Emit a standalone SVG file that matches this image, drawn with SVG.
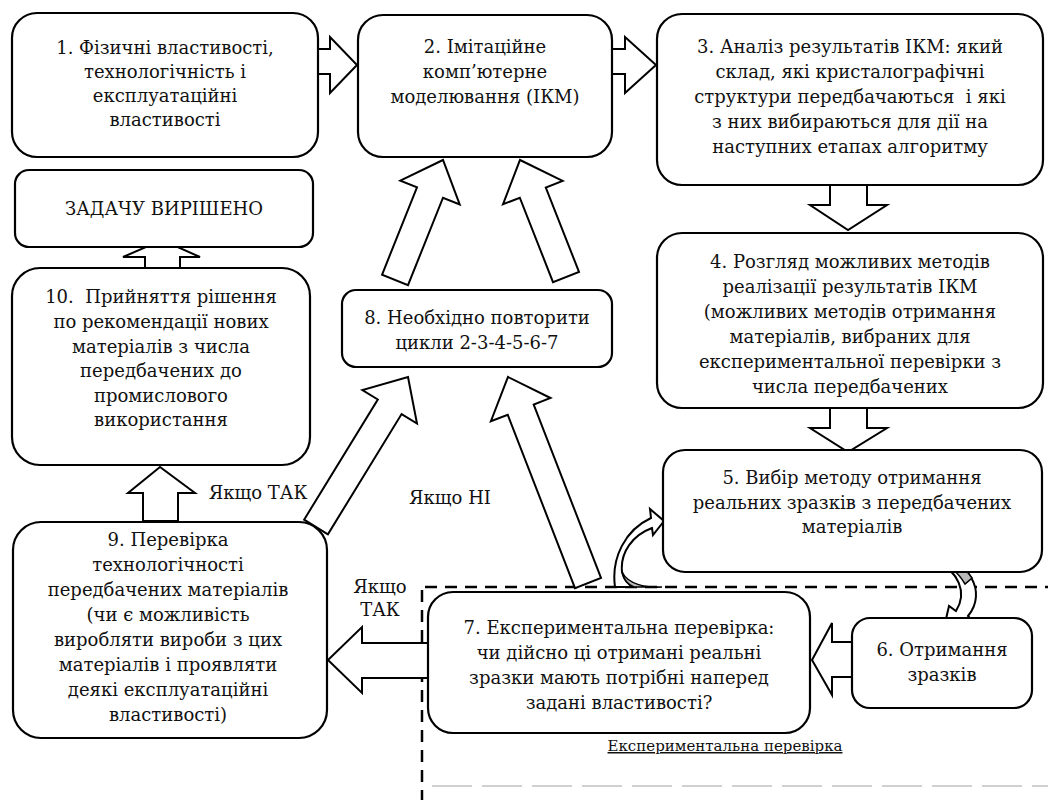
<svg xmlns="http://www.w3.org/2000/svg" width="1048" height="800" viewBox="0 0 1048 800">
<style>
.box{fill:#fff;stroke:#000;stroke-width:2.2}
.arr{fill:#fff;stroke:#000;stroke-width:2;stroke-linejoin:miter}
.t{font-family:'DejaVu Serif','Liberation Serif',serif;font-size:18px;fill:#111;text-anchor:middle}
.s{font-size:15px}
.dash{fill:none;stroke:#000;stroke-width:2.5;stroke-dasharray:12 8}
.gray{fill:#b8b8b8;stroke:#000;stroke-width:1.5}
</style>
<rect width="1048" height="800" fill="#fff"/>

<g id="frame">
<line class="dash" x1="425" y1="587" x2="1048" y2="587"/>
<line class="dash" x1="422" y1="590" x2="422" y2="800"/>
<line x1="432" y1="786" x2="1048" y2="786" stroke="#d0d0d0" stroke-width="2" stroke-dasharray="40 10"/>
</g>

<g id="connectors">
<polygon class="arr" points="318,49 330,49 330,37 357,65 330,93 330,74 318,74"/>
<polygon class="arr" points="612,49 625,49 625,37 656,65 625,93 625,74 612,74"/>
<polygon class="arr" points="830,185 830,205 810,205 848,230 887,205 867,205 867,185"/>
<polygon class="arr" points="830,408 830,428 810,428 848,452 887,428 867,428 867,408"/>
<polygon class="arr" points="145,268 145,257 123,257 162,240 200,257 180,257 180,268"/>
<polygon class="arr" points="143,521 143,493 128,493 160,467 195,493 178,493 178,521"/>
<polygon class="arr" points="852,642 832,642 832,623 812,660 832,695 832,677 852,677"/>
<polygon class="arr" points="428,643 362,643 362,627 328,660 362,693 362,678 428,678"/>
<polygon class="arr" points="382,274.8 417,187.3 400.3,180.6 443,160 459.7,204.4 443,197.7 408,285.2"/>
<polygon class="arr" points="579,271.9 545.8,187.5 562.6,180.9 520,160 503,204.3 519.8,197.7 553,282.1"/>
<polygon class="arr" points="304.1,519.7 377.8,399.5 362.4,390.1 408,377 417,423.5 401.6,414.1 327.9,534.3"/>
<polygon class="arr" points="601,577.9 533.7,404.5 550.5,398 508,377 490.9,421.2 507.7,414.7 575,588.1"/>
<path class="arr" d="M615 587 C611 558 625 530 651 518 L650 509 L664 521 L653 535 L652 528 C633 535 620 552 622 572 C624 580 628 585 634 587 Z"/>
<path class="gray" d="M622 572 C628 584 645 588 662 587 L634 587 C628 585 624 580 622 572 Z"/>
<path class="arr" d="M936 560 C968 558 988 592 968 616 L975 624 L943 632 L949 606 L956 611 C968 592 958 572 936 560 Z"/>
<path class="gray" d="M936 560 C952 559 965 567 972 578 L965 584 C958 572 950 566 936 560 Z"/>
</g>

<g id="n1">
<rect class="box" x="12" y="13" width="306" height="144" rx="25"/>
<text class="t" x="165" y="54">1. Фізичні властивості,</text>
<text class="t" x="165" y="78">технологічність і</text>
<text class="t" x="165" y="102">експлуатаційні</text>
<text class="t" x="165" y="126">властивості</text>
</g>
<g id="n2">
<rect class="box" x="358" y="15" width="254" height="142" rx="25"/>
<text class="t" x="485" y="53">2. Імітаційне</text>
<text class="t" x="485" y="78">комп’ютерне</text>
<text class="t" x="485" y="103">моделювання (ІКМ)</text>
</g>
<g id="n3">
<rect class="box" x="657" y="14" width="386" height="171" rx="25"/>
<text class="t" x="850" y="53">3. Аналіз результатів ІКМ: який</text>
<text class="t" x="850" y="78">склад, які кристалографічні</text>
<text class="t" x="850" y="103" xml:space="preserve">структури передбачаються  і які</text>
<text class="t" x="850" y="128">з них вибираються для дії на</text>
<text class="t" x="850" y="153">наступних етапах алгоритму</text>
</g>
<g id="n4">
<rect class="box" x="657" y="233" width="386" height="175" rx="25"/>
<text class="t" x="850" y="268">4. Розгляд можливих методів</text>
<text class="t" x="850" y="293">реалізації результатів ІКМ</text>
<text class="t" x="850" y="318">(можливих методів отримання</text>
<text class="t" x="850" y="343">матеріалів, вибраних для</text>
<text class="t" x="850" y="368">експериментальної перевірки з</text>
<text class="t" x="850" y="393">числа передбачених</text>
</g>
<g id="n5">
<rect class="box" x="663" y="450" width="379" height="122" rx="22"/>
<text class="t" x="852" y="484">5. Вибір методу отримання</text>
<text class="t" x="852" y="509">реальних зразків з передбачених</text>
<text class="t" x="852" y="533">матеріалів</text>
</g>
<g id="n6">
<rect class="box" x="852" y="618" width="180" height="90" rx="18"/>
<text class="t" x="942" y="656">6. Отримання</text>
<text class="t" x="942" y="681">зразків</text>
</g>
<g id="n7">
<rect class="box" x="428" y="592" width="382" height="141" rx="25"/>
<text class="t" x="619" y="634">7. Експериментальна перевірка:</text>
<text class="t" x="619" y="659">чи дійсно ці отримані реальні</text>
<text class="t" x="619" y="684">зразки мають потрібні наперед</text>
<text class="t" x="619" y="709">задані властивості?</text>
</g>
<g id="n8">
<rect class="box" x="342" y="290" width="270" height="77" rx="14"/>
<text class="t" x="477" y="324">8. Необхідно повторити</text>
<text class="t" x="477" y="349">цикли 2-3-4-5-6-7</text>
</g>
<g id="n9">
<rect class="box" x="13" y="522" width="314" height="216" rx="28"/>
<text class="t" x="168" y="546">9. Перевірка</text>
<text class="t" x="168" y="571">технологічності</text>
<text class="t" x="168" y="596">передбачених матеріалів</text>
<text class="t" x="168" y="621">(чи є можливість</text>
<text class="t" x="168" y="646">виробляти вироби з цих</text>
<text class="t" x="168" y="671">матеріалів і проявляти</text>
<text class="t" x="168" y="696">деякі експлуатаційні</text>
<text class="t" x="168" y="721">властивості)</text>
</g>
<g id="n10">
<rect class="box" x="12" y="268" width="298" height="197" rx="28"/>
<text class="t" x="161" y="303" xml:space="preserve">10.  Прийняття рішення</text>
<text class="t" x="161" y="328">по рекомендації нових</text>
<text class="t" x="161" y="353">матеріалів з числа</text>
<text class="t" x="161" y="377">передбачених до</text>
<text class="t" x="161" y="402">промислового</text>
<text class="t" x="161" y="426">використання</text>
</g>
<g id="done">
<rect class="box" x="15" y="170" width="298" height="77" rx="14"/>
<text class="t" x="164" y="215">ЗАДАЧУ ВИРІШЕНО</text>
</g>

<g id="labels">
<text class="t" x="258" y="499">Якщо ТАК</text>
<text class="t" x="450" y="504">Якщо НІ</text>
<text class="t" x="380" y="593">Якщо</text>
<text class="t" x="380" y="616">ТАК</text>
<text class="t s" x="725" y="751" text-decoration="underline">Експериментальна перевірка</text>
</g>
</svg>
